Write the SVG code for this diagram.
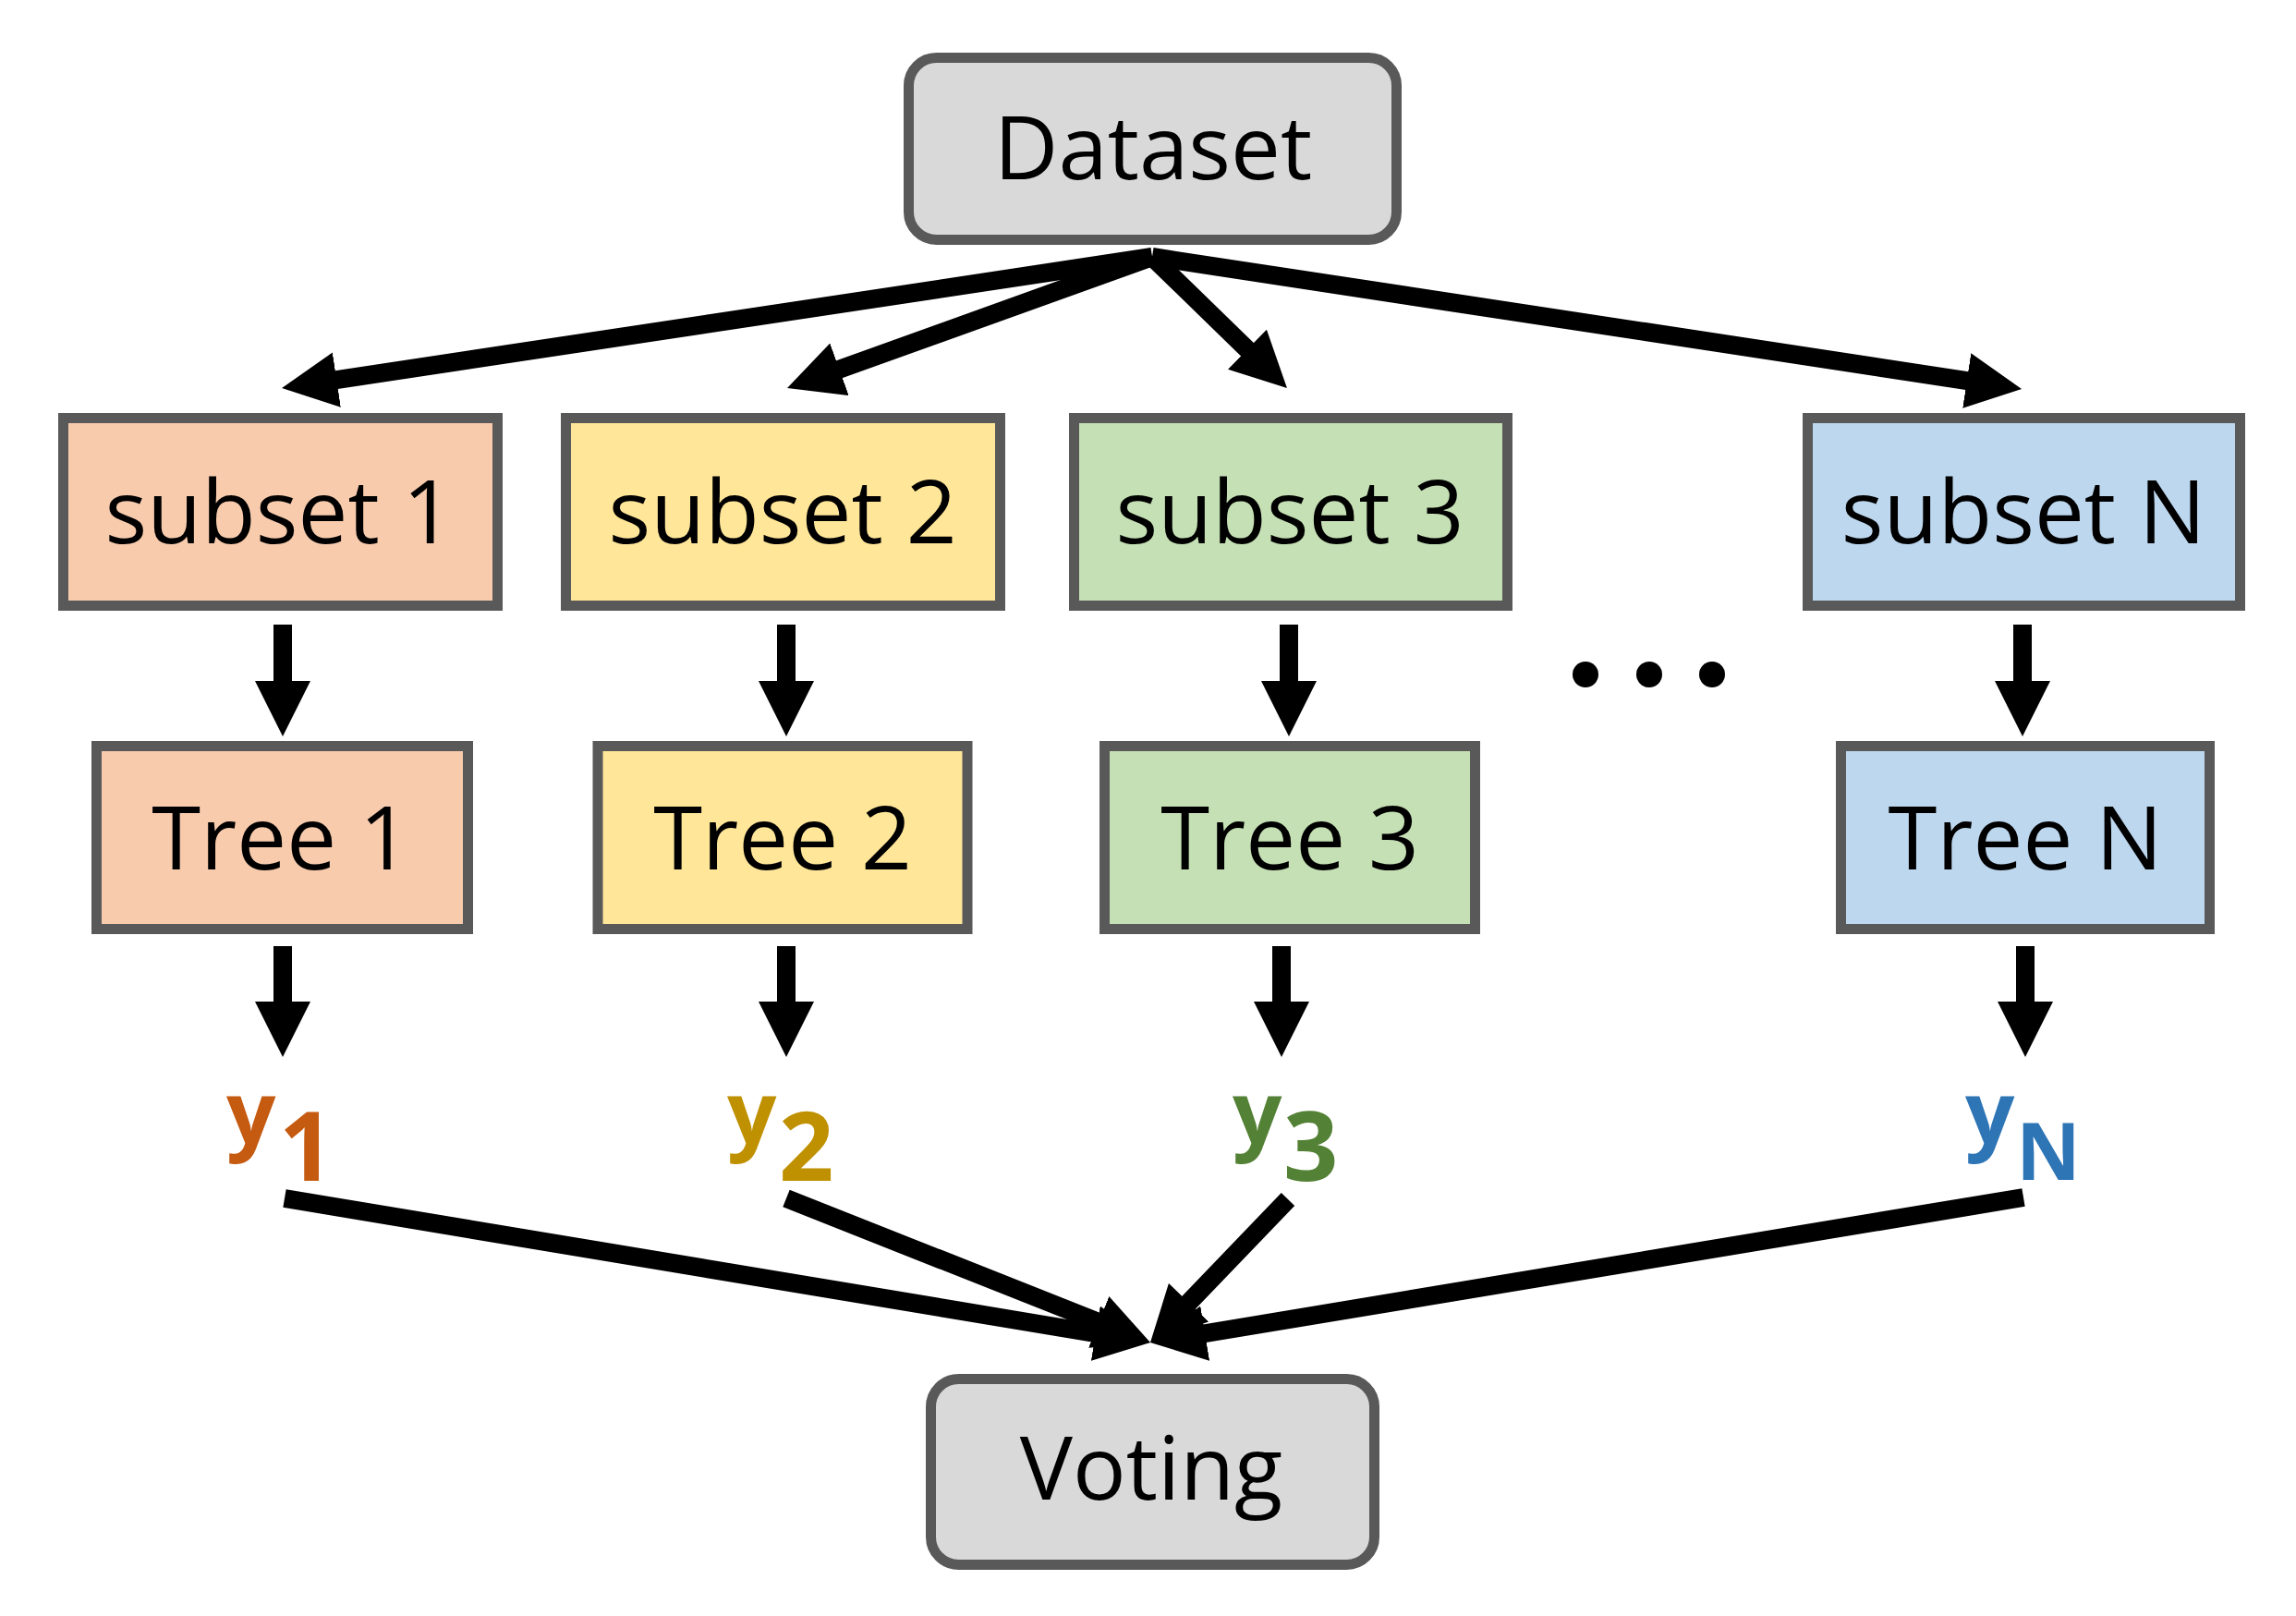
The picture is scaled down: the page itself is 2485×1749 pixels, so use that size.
<svg xmlns="http://www.w3.org/2000/svg" width="2485" height="1749" viewBox="0 0 2485 1749">
<style>
.box{stroke:#595959;stroke-width:11}
.gray{fill:#D9D9D9}
.c1{fill:#F8CBAD}.c2{fill:#FFE699}.c3{fill:#C5E0B4}.cN{fill:#BDD7EE}
.lbl{font-family:"Open Sans","Noto Sans",sans-serif;font-size:96px;fill:#000;text-anchor:middle}
.y{font-family:"Open Sans","Noto Sans",sans-serif;font-weight:bold}
.conn{stroke:#000;stroke-width:20;fill:none;stroke-linecap:butt;marker-end:url(#ah)}
</style>
<defs>
<marker id="ah" viewBox="0 0 60 60" refX="2" refY="30" markerWidth="60" markerHeight="60" markerUnits="userSpaceOnUse" orient="auto">
<path d="M0,0 L60,30 L0,60 Z" fill="#000"/>
</marker>
</defs>
<rect width="2485" height="1749" fill="#fff"/>
<g id="connectors">
<line class="conn" x1="1247" y1="278" x2="362.4" y2="411.4"/>
<line class="conn" x1="1247" y1="278" x2="906.6" y2="400.4"/>
<line class="conn" x1="1247" y1="278" x2="1351.4" y2="379.6"/>
<line class="conn" x1="1247" y1="278" x2="2130.7" y2="412.3"/>
<line class="conn" x1="306" y1="676" x2="306" y2="739"/>
<line class="conn" x1="851" y1="676" x2="851" y2="739"/>
<line class="conn" x1="1395" y1="676" x2="1395" y2="739"/>
<line class="conn" x1="2189" y1="676" x2="2189" y2="739"/>
<line class="conn" x1="306" y1="1024" x2="306" y2="1086"/>
<line class="conn" x1="851" y1="1024" x2="851" y2="1086"/>
<line class="conn" x1="1387" y1="1024" x2="1387" y2="1086"/>
<line class="conn" x1="2192" y1="1024" x2="2192" y2="1086"/>
<line class="conn" x1="308" y1="1297" x2="1187.8" y2="1443.5"/>
<line class="conn" x1="851" y1="1297" x2="1191.1" y2="1431.7"/>
<line class="conn" x1="1394" y1="1298" x2="1285.2" y2="1411.2"/>
<line class="conn" x1="2190" y1="1296" x2="1302.2" y2="1443.5"/>
</g>
<g id="dataset">
<rect class="box gray" x="983.5" y="62.5" width="528" height="197" rx="30"/>
<text class="lbl" x="1248" y="194">Dataset</text>
</g>
<g id="subset1">
<rect class="box c1" x="68.5" y="452.5" width="470" height="203"/>
<text class="lbl" x="302" y="588">subset 1</text>
</g>
<g id="subset2">
<rect class="box c2" x="612.5" y="452.5" width="470" height="203"/>
<text class="lbl" x="847" y="588">subset 2</text>
</g>
<g id="subset3">
<rect class="box c3" x="1162.5" y="452.5" width="469" height="203"/>
<text class="lbl" x="1396" y="588">subset 3</text>
</g>
<g id="subsetN">
<rect class="box cN" x="1956.5" y="452.5" width="468" height="203"/>
<text class="lbl" x="2190" y="588">subset N</text>
</g>
<g id="dots">
<circle cx="1716" cy="730" r="14"/>
<circle cx="1785" cy="730" r="14"/>
<circle cx="1853" cy="730" r="14"/>
</g>
<g id="tree1">
<rect class="box c1" x="104.5" y="807.5" width="402" height="198"/>
<text class="lbl" x="304" y="941">Tree 1</text>
</g>
<g id="tree2">
<rect class="box c2" x="647" y="807.5" width="400" height="198"/>
<text class="lbl" x="847" y="941">Tree 2</text>
</g>
<g id="tree3">
<rect class="box c3" x="1195.5" y="807.5" width="401" height="198"/>
<text class="lbl" x="1396" y="941">Tree 3</text>
</g>
<g id="treeN">
<rect class="box cN" x="1992.5" y="807.5" width="399" height="198"/>
<text class="lbl" x="2192" y="941">Tree N</text>
</g>
<g id="y1" class="y" fill="#C55A11">
<text x="245" y="1238" font-size="94">y</text>
<text x="302" y="1278" font-size="104">1</text>
</g>
<g id="y2" class="y" fill="#BF9000">
<text x="787" y="1238" font-size="94">y</text>
<text x="843" y="1278" font-size="104">2</text>
</g>
<g id="y3" class="y" fill="#538135">
<text x="1334" y="1238" font-size="94">y</text>
<text x="1389" y="1278" font-size="104">3</text>
</g>
<g id="yN" class="y" fill="#2E75B6">
<text x="2127" y="1238" font-size="94">y</text>
<text x="2182" y="1277" font-size="86">N</text>
</g>
<g id="voting">
<rect class="box gray" x="1007.5" y="1492.5" width="480" height="201" rx="30"/>
<text class="lbl" x="1246" y="1623">Voting</text>
</g>
</svg>
